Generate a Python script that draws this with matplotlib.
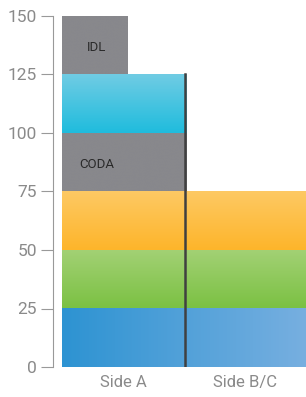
import numpy as np
import matplotlib.pyplot as plt
from matplotlib.colors import LinearSegmentedColormap

# categories on the x axis
categories = ["Side A", "Side B/C"]

# stacked layers: (label, bottom, top, x_start, x_end)
layer_names = ["base", "green", "orange", "CODA", "cyan", "IDL"]
layer_bottoms = [0, 25, 50, 75, 100, 125]
layer_tops = [25, 50, 75, 100, 125, 150]
layer_x0 = [0, 0, 0, 0, 0, 0]
layer_x1 = [2.0, 2.0, 2.0, 1.02, 1.02, 0.54]
layer_labels = ["", "", "", "CODA", "", "IDL"]

# gradient colours (start, end, direction)
layer_colors = [
    ("#2d93d2", "#77afe0", "h"),
    ("#a3d175", "#7bc143", "v"),
    ("#fec964", "#fdb52a", "v"),
    ("#88888c", "#88888c", "v"),
    ("#70cce4", "#1fbcdd", "v"),
    ("#88888c", "#88888c", "v"),
]

yticks = [0, 25, 50, 75, 100, 125, 150]

plt.rcParams['font.family'] = ['Roboto', 'DejaVu Sans']

fig = plt.figure(figsize=(3.06, 3.97), dpi=100)
ax = fig.add_axes([53 / 306, 30 / 397, 1 - 53 / 306, 351 / 397])

for name, b, t, x0, x1, (c0, c1, d), lab in zip(layer_names, layer_bottoms, layer_tops,
                                                layer_x0, layer_x1, layer_colors, layer_labels):
    cmap = LinearSegmentedColormap.from_list(name, [c0, c1])
    if d == "h":
        grad = np.linspace(0, 1, 256).reshape(1, -1)
    else:
        grad = np.linspace(0, 1, 256).reshape(-1, 1)
    ax.imshow(grad, cmap=cmap, extent=(x0, x1, b, t), origin="upper",
              aspect="auto", interpolation="bicubic", zorder=2)
    if lab:
        ax.text((x0 + min(x1, 0.54)) / 2 + 0.015, (b + t) / 2 - 1, lab, ha="center", va="center",
                fontsize=9.5, color="#2a2a2a", zorder=3)

# divider between sides
ax.plot([1.005, 1.005], [0, 125], color="#404040", lw=1.8, zorder=4)

ax.set_xlim(-0.074, 2.0)
ax.set_ylim(0, 150)
ax.set_yticks(yticks)
ax.set_xticks([0.5, 1.5])
ax.set_xticklabels(categories)

for s in ["top", "right", "bottom"]:
    ax.spines[s].set_visible(False)
ax.spines["left"].set_color("#999999")
ax.tick_params(axis="y", length=8.5, color="#999999", labelcolor="#8a8a8a",
               labelsize=12.5, pad=3)
ax.tick_params(axis="x", length=0, labelcolor="#8a8a8a", labelsize=12, pad=6)

fig.savefig("out.png", dpi=100)
